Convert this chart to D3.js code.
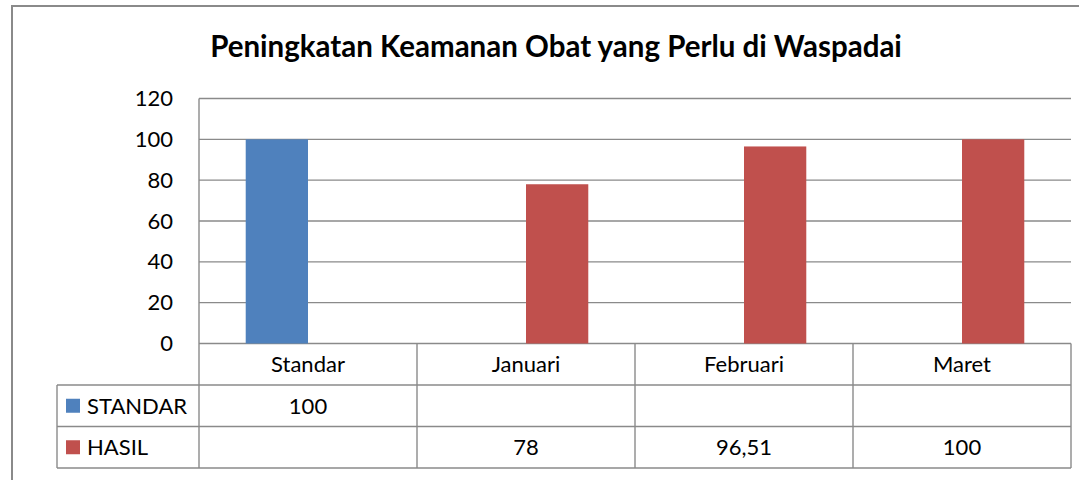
<!DOCTYPE html>
<html>
<head>
<meta charset="utf-8">
<script src="https://cdn.jsdelivr.net/npm/d3@7"></script>
<style>
  body { margin: 0; background: #fff; }
  text { font-family: Lato, "Open Sans", sans-serif; fill: #000; }
</style>
</head>
<body>
<div id="graph"></div>
<script>
const categories = ['Standar', 'Januari', 'Februari', 'Maret']
const seriesNames = ['STANDAR', 'HASIL']
const standarValues = [100, null, null, null]
const hasilValues = [null, 78, 96.51, 100]
const yTicks = [0, 20, 40, 60, 80, 100, 120]
const title = 'Peningkatan Keamanan Obat yang Perlu di Waspadai'

const svgw = 1079
const svgh = 480
const colors = ['#4f81bd', '#c0504d']
const gridColor = '#8a8a8a'
const fontSize = 22

const plot = { left: 199, right: 1071, top: 98.5, bottom: 343.5 }
const tableLeft = 57
const rowH = 41.5

const svg = d3.select('#graph')
    .append('svg')
    .attr('width', svgw)
    .attr('height', svgh)

// outer chart frame
svg.append('rect')
    .attr('x', 12).attr('y', 6)
    .attr('width', svgw + 10).attr('height', svgh + 10)
    .attr('fill', 'none')
    .attr('stroke', gridColor)
    .attr('stroke-width', 2)

svg.append('text')
    .attr('x', 556).attr('y', 57)
    .attr('text-anchor', 'middle')
    .attr('font-size', 29.5)
    .attr('font-weight', 'bold')
    .text(title)

const xScale = d3.scaleBand()
    .domain(categories)
    .range([plot.left, plot.right])

const inner = d3.scaleBand()
    .domain(seriesNames)
    .range([0, xScale.bandwidth()])
    .paddingInner(0)
    .paddingOuter(0.75)

const yScale = d3.scaleLinear()
    .domain([0, 120])
    .range([plot.bottom, plot.top])

// gridlines
svg.append('g')
    .selectAll('line')
    .data(yTicks)
    .enter()
    .append('line')
    .attr('x1', plot.left).attr('x2', plot.right)
    .attr('y1', d => yScale(d)).attr('y2', d => yScale(d))
    .attr('stroke', gridColor)
    .attr('stroke-width', 1.4)

// y axis
const yAxis = d3.axisLeft(yScale)
    .tickValues(yTicks)
    .tickSize(0)
    .tickPadding(26)
const yg = svg.append('g')
    .attr('transform', `translate(${plot.left},0)`)
    .call(yAxis)
yg.select('.domain').remove()
yg.selectAll('text')
    .attr('font-size', fontSize)
    .attr('font-family', 'Lato, sans-serif')
    .attr('fill', '#000')

// bars
const series = [standarValues, hasilValues]
series.forEach((vals, si) => {
    svg.append('g')
        .selectAll('rect')
        .data(categories.map((c, i) => ({ c, v: vals[i] })).filter(d => d.v != null))
        .enter()
        .append('rect')
        .attr('x', d => xScale(d.c) + inner(seriesNames[si]))
        .attr('y', d => yScale(d.v))
        .attr('width', inner.bandwidth())
        .attr('height', d => yScale(0) - yScale(d.v))
        .attr('fill', colors[si])
})

// data table
const table = svg.append('g')
const tableBottom = plot.bottom + rowH * 3
const line = (x1, y1, x2, y2) => table.append('line')
    .attr('x1', x1).attr('y1', y1).attr('x2', x2).attr('y2', y2)
    .attr('stroke', gridColor).attr('stroke-width', 1.4)

line(plot.left, plot.top, plot.left, tableBottom)
categories.forEach(c => line(xScale(c) + xScale.bandwidth(), plot.bottom, xScale(c) + xScale.bandwidth(), tableBottom))
line(tableLeft, plot.bottom + rowH, tableLeft, tableBottom)
for (let r = 1; r <= 3; r++) line(tableLeft, plot.bottom + rowH * r, plot.right, plot.bottom + rowH * r)

table.selectAll('.cat')
    .data(categories)
    .enter()
    .append('text')
    .attr('class', 'cat')
    .attr('x', d => xScale(d) + xScale.bandwidth() / 2)
    .attr('y', plot.bottom + rowH / 2 + 7.5)
    .attr('text-anchor', 'middle')
    .attr('font-size', fontSize)
    .text(d => d)

const fmt = v => v == null ? '' : String(v).replace('.', ',')
series.forEach((vals, si) => {
    const cy = plot.bottom + rowH * (si + 1) + rowH / 2
    table.append('rect')
        .attr('x', 66).attr('y', cy - 7)
        .attr('width', 14).attr('height', 14)
        .attr('fill', colors[si])
    table.append('text')
        .attr('x', 87).attr('y', cy + 8)
        .attr('font-size', fontSize)
        .text(seriesNames[si])
    table.selectAll('.val' + si)
        .data(categories.map((c, i) => ({ c, v: vals[i] })))
        .enter()
        .append('text')
        .attr('x', d => xScale(d.c) + xScale.bandwidth() / 2)
        .attr('y', cy + 8)
        .attr('text-anchor', 'middle')
        .attr('font-size', fontSize)
        .text(d => fmt(d.v))
})
</script>
</body>
</html>
